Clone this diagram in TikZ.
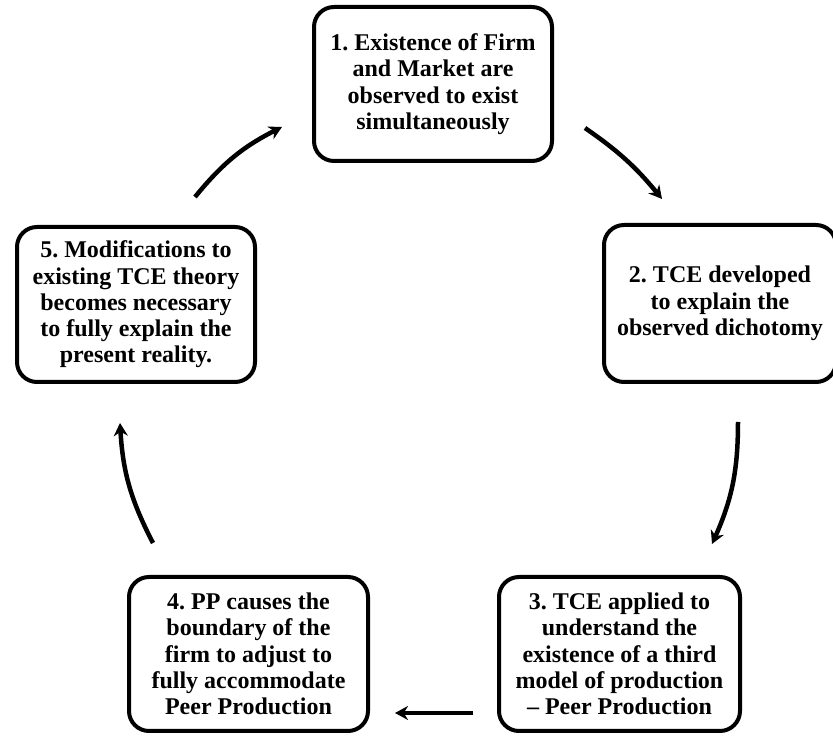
\documentclass[tikz,border=0pt]{standalone}
\usepackage{fontspec}
\setmainfont{Liberation Serif}
\usetikzlibrary{arrows.meta}
\frenchspacing

\begin{document}
\begin{tikzpicture}[x=1pt,y=1pt]
\tikzstyle{every node}=[align=center, font=\bfseries\fontsize{24}{26.3}\selectfont]
\tikzstyle{box}=[draw, line width=4pt, rounded corners=20pt, minimum width=238pt, minimum height=154pt, inner sep=2pt]
\tikzstyle{arr}=[line width=4.5pt, -{Stealth[length=13pt,width=14pt]}, bend left=12]
\useasboundingbox (0,0) rectangle (833,736);
\draw (433,652) node (b1) [box] {1. Existence of Firm\\and Market are\\observed to exist\\simultaneously};
\draw (720,432.5) node (b2) [box,minimum width=232pt,minimum height=157pt] {2. TCE developed\\to explain the\\observed dichotomy};
\draw (619.5,82) node (b3) [box,minimum width=241pt] {3. TCE applied to\\understand the\\existence of a third\\model of production\\-- Peer Production};
\draw (248.5,82) node (b4) [box,minimum width=239pt] {4. PP causes the\\boundary of the\\firm to adjust to\\fully accommodate\\Peer Production};
\draw (136,431.5) node (b5) [box,minimum height=155pt] {5. Modifications to\\existing TCE theory\\becomes necessary\\to fully explain the\\present reality.};
% arrow ends
\coordinate (a1s) at (195,539);
\coordinate (a1e) at (282,609);
\coordinate (a2s) at (585,608);
\coordinate (a2e) at (662,537);
\coordinate (a3s) at (738,314);
\coordinate (a3e) at (712,192);
\coordinate (a4s) at (473,23);
\coordinate (a4e) at (395,23);
\coordinate (a5s) at (153,193);
\coordinate (a5e) at (120,313);
\draw[arr] (a1s) to (a1e);
\draw[arr,bend left=8] (a2s) to (a2e);
\draw[arr] (a3s) to (a3e);
\draw[arr,bend left=0] (a4s) to (a4e);
\draw[arr] (a5s) to (a5e);
\end{tikzpicture}
\end{document}
